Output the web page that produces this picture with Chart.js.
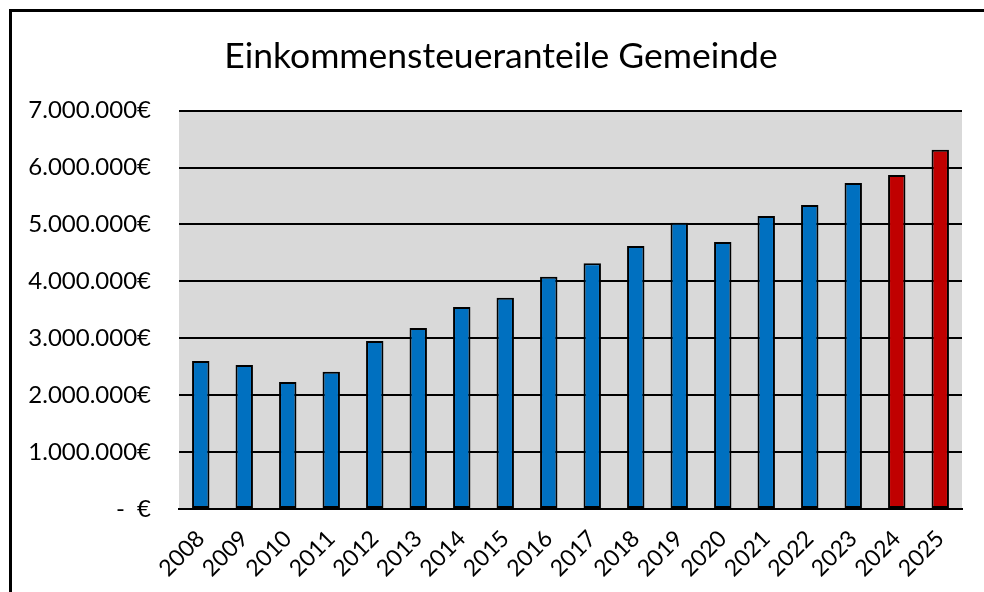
<!DOCTYPE html>
<html>
<head>
<meta charset="utf-8">
<script src="https://cdn.jsdelivr.net/npm/chart.js@4"></script>
<style>
  html, body { margin: 0; padding: 0; background: #fff; overflow: hidden; }
  #frame { position: absolute; left: 9px; top: 9px; width: 1000px; height: 620px; border: 3px solid #000; }
  #wrap { position: absolute; left: 0; top: 0; width: 984px; height: 592px; }
</style>
</head>
<body>
<div id="frame"></div>
<div id="wrap"><canvas id="c"></canvas></div>
<script>
// Einkommensteueranteile Gemeinde
const years = ['2008', '2009', '2010', '2011', '2012', '2013', '2014', '2015', '2016',
    '2017', '2018', '2019', '2020', '2021', '2022', '2023', '2024', '2025'];
const anteile = [2600000, 2530000, 2230000, 2410000, 2950000, 3180000, 3550000, 3710000, 4080000,
    4320000, 4620000, 5030000, 4690000, 5150000, 5340000, 5730000, 5870000, 6310000];
const planYears = ['2024', '2025'];   // rot = Plan/Prognose
const yTicks = [0, 1000000, 2000000, 3000000, 4000000, 5000000, 6000000, 7000000];

const FONT = 'Lato, "Open Sans", sans-serif';

function euro(v) {
    if (v === 0) return '-  €';
    return v.toLocaleString('de-DE') + '€';
}

const plotBg = {
    id: 'plotBg',
    afterLayout(chart) {
        // Titel etwas nach rechts (wie im Original)
        if (chart.titleBlock) chart.titleBlock.left = 40;
    },
    beforeDraw(chart) {
        const a = chart.chartArea, ctx = chart.ctx;
        ctx.save();
        ctx.fillStyle = '#d9d9d9';
        ctx.fillRect(a.left, a.top, a.right - a.left, a.bottom - a.top);
        ctx.restore();
    }
};

new Chart(document.getElementById('c'), {
    type: 'bar',
    data: {
        labels: years,
        datasets: [{
            data: anteile,
            backgroundColor: years.map(y => planYears.includes(y) ? '#c00000' : '#0070c0'),
            borderColor: '#000',
            borderWidth: 2,
            borderSkipped: false,
            barPercentage: 0.4,
            categoryPercentage: 1.0,
        }]
    },
    options: {
        responsive: true,
        maintainAspectRatio: false,
        animation: false,
        layout: { padding: { left: 0, right: 22, top: 0, bottom: 0 } },
        plugins: {
            legend: { display: false },
            tooltip: { enabled: false },
            title: {
                display: true,
                text: 'Einkommensteueranteile Gemeinde',
                color: '#000',
                font: { family: FONT, size: 35.5, weight: 'normal' },
                padding: { top: 35, bottom: 33 },
            }
        },
        scales: {
            x: {
                grid: { display: false, drawTicks: false },
                border: { display: true, color: '#000', width: 2 },
                ticks: {
                    color: '#000', padding: 16,
                    minRotation: 45, maxRotation: 45,
                    font: { family: FONT, size: 23 },
                },
                afterFit: s => { s.height = 83; },
            },
            y: {
                min: 0, max: 7000000,
                afterBuildTicks: s => { s.ticks = yTicks.map(v => ({ value: v })); },
                grid: { color: '#000', lineWidth: 2, drawTicks: false },
                border: { display: false },
                ticks: {
                    color: '#000', padding: 28,
                    font: { family: FONT, size: 24 },
                    callback: v => euro(v),
                },
                afterFit: s => { s.width = 179; },
            }
        }
    },
    plugins: [plotBg]
});
</script>
</body>
</html>
